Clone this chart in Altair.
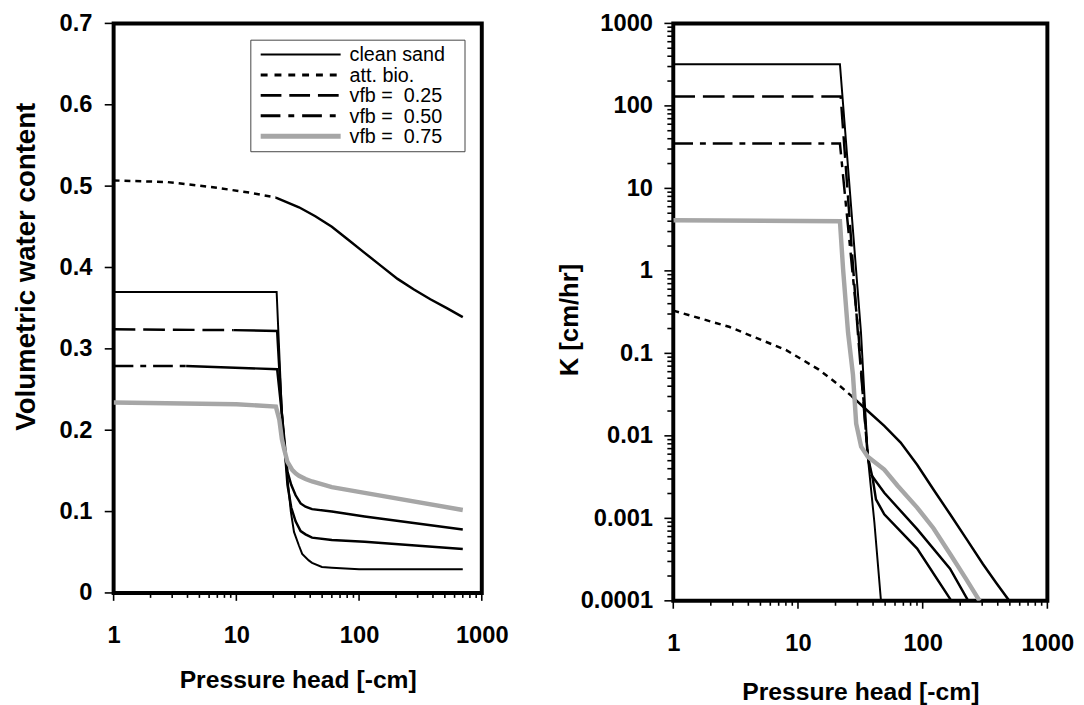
import altair as alt
import pandas as pd

# ---------------- data ----------------
# Left panel: volumetric water content vs pressure head [-cm]
h_clean_L = [1, 21.3, 23.5, 25.3, 27.8, 29.5, 32.4, 34.4, 38.9, 41.4, 49.8, 60, 100, 700]
th_clean_L = [0.370, 0.370, 0.221, 0.161, 0.100, 0.075, 0.058, 0.048, 0.040, 0.037, 0.032, 0.031, 0.029, 0.029]

h_att_L = [1, 2.75, 6.93, 12.8, 21, 32.4, 44, 60, 81.6, 111, 151, 206, 280, 381, 519, 700]
th_att_L = [0.507, 0.505, 0.498, 0.492, 0.486, 0.474, 0.463, 0.450, 0.434, 0.418, 0.402, 0.386,
            0.373, 0.361, 0.350, 0.339]

h_v25_L = [1, 9.5, 21.5, 23.5, 25.3, 26.1, 28, 30.4, 33.4, 36.6, 41.4, 60, 111, 700]
th_v25_L = [0.324, 0.323, 0.322, 0.220, 0.160, 0.133, 0.105, 0.088, 0.076, 0.072, 0.068, 0.065, 0.063, 0.054]

h_v50_L = [1, 3.9, 21.5, 23.5, 25.3, 26.1, 28, 30.4, 33.4, 36.6, 41.4, 60, 111, 700]
th_v50_L = [0.279, 0.279, 0.275, 0.220, 0.170, 0.149, 0.133, 0.120, 0.110, 0.106, 0.103, 0.100, 0.094, 0.078]

h_v75_L = [1, 10, 21, 22.4, 23.5, 24.5, 26.1, 28.6, 30.4, 32.4, 36.6, 41.4, 60, 111, 700]
th_v75_L = [0.234, 0.232, 0.229, 0.213, 0.189, 0.177, 0.161, 0.151, 0.147, 0.144, 0.140, 0.137,
            0.130, 0.123, 0.102]

# Right panel: hydraulic conductivity K [cm/hr] vs pressure head [-cm]
h_clean_R = [1, 21.7, 32, 36.3, 41, 46.3]
K_clean_R = [320, 320, 0.18, 0.0056, 0.00089, 0.0001]

h_att_R = [1, 2.8, 8, 14.6, 21, 26.8, 36.3, 49.2, 66.6, 90.3, 122, 166, 225, 304, 388, 495]
K_att_R = [0.33, 0.21, 0.11, 0.064, 0.042, 0.0305, 0.020, 0.0132, 0.0083, 0.00447, 0.00224,
           0.00112, 0.00056, 0.00028, 0.000166, 0.0001]

h_v25_R = [1, 22, 30.2, 36.3, 39.8, 42.2, 49.2, 90.3, 170]
K_v25_R = [130, 130, 0.18, 0.0056, 0.003, 0.0017, 0.00112, 0.00043, 0.0001]

h_v50_R = [1, 21.7, 30.5, 36.3, 38.5, 49.2, 90.3, 165.7, 232]
K_v50_R = [35, 35, 0.18, 0.0056, 0.0034, 0.00204, 0.00074, 0.000245, 0.0001]

h_v75_R = [1, 21.7, 23, 25.2, 27.6, 29.3, 32.1, 36.3, 49.2, 62.7, 90.3, 122, 166, 220, 286]
K_v75_R = [4.1, 4.0, 1.05, 0.18, 0.055, 0.014, 0.0074, 0.0056, 0.0039, 0.0025, 0.00135,
           0.00076, 0.00037, 0.00019, 0.0001]

series_names = ["clean sand", "att. bio.", "vfb = \u00a00.25", "vfb = \u00a00.50", "vfb = \u00a00.75"]

# tick positions
x_major = [1, 10, 100, 1000]
x_minor = [m * d for d in [1, 10, 100] for m in range(2, 10)]
yL_ticks = [0, 0.1, 0.2, 0.3, 0.4, 0.5, 0.6, 0.7]
yR_major = [0.0001, 0.001, 0.01, 0.1, 1, 10, 100, 1000]
yR_minor = [m * d for d in [0.0001, 0.001, 0.01, 0.1, 1, 10, 100] for m in range(2, 10)]

# ---------------- styles ----------------
STYLES = {
    "solid":   dict(color="black", strokeWidth=2.0),
    "tail":    dict(color="black", strokeWidth=2.5),
    "dot":     dict(color="black", strokeWidth=2.5, strokeDash=[6, 5]),
    "dash":    dict(color="black", strokeWidth=2.5, strokeDash=[22, 8]),
    "dashdot": dict(color="black", strokeWidth=2.5, strokeDash=[20, 7, 6, 7]),
    "gray":    dict(color="#a6a6a6", strokeWidth=4.5),
}
LEGEND_STYLES = [
    dict(color="black", strokeWidth=2.0),
    dict(color="black", strokeWidth=3.0, strokeDash=[7, 7]),
    dict(color="black", strokeWidth=3.0, strokeDash=[21, 8]),
    dict(color="black", strokeWidth=3.0, strokeDash=[20, 8, 6, 8]),
    dict(color="#a6a6a6", strokeWidth=5.0),
]


def segments(name, hs, vs, split, style_a, style_b):
    rows = []
    if split is None:
        for h, v in zip(hs, vs):
            rows.append(dict(series=name, seg=name + "|a", style=style_a, h=h, v=v))
        return rows
    for h, v in zip(hs[: split + 1], vs[: split + 1]):
        rows.append(dict(series=name, seg=name + "|a", style=style_a, h=h, v=v))
    for h, v in zip(hs[split:], vs[split:]):
        rows.append(dict(series=name, seg=name + "|b", style=style_b, h=h, v=v))
    return rows


rowsL = []
rowsL += segments(series_names[0], h_clean_L, th_clean_L, None, "solid", None)
rowsL += segments(series_names[1], h_att_L, th_att_L, 4, "dot", "tail")
rowsL += segments(series_names[2], h_v25_L, th_v25_L, 1, "dash", "tail")
rowsL += segments(series_names[3], h_v50_L, th_v50_L, 1, "dashdot", "tail")
rowsL += segments(series_names[4], h_v75_L, th_v75_L, None, "gray", None)
dfL = pd.DataFrame(rowsL)

rowsR = []
rowsR += segments(series_names[0], h_clean_R, K_clean_R, None, "solid", None)
rowsR += segments(series_names[1], h_att_R, K_att_R, 5, "dot", "tail")
rowsR += segments(series_names[2], h_v25_R, K_v25_R, 4, "dash", "tail")
rowsR += segments(series_names[3], h_v50_R, K_v50_R, 4, "dashdot", "tail")
rowsR += segments(series_names[4], h_v75_R, K_v75_R, None, "gray", None)
dfR = pd.DataFrame(rowsR)

FONT = "Liberation Sans"
WL, HL = 373, 577
WR, HR = 379, 585


def x_axis(title_y):
    t = "indexof([1,10,100,1000], datum.value) >= 0"
    return alt.Axis(
        values=x_major,
        format="~g",
        ticks=True,
        tickSize=7,
        tickOpacity=0,
        labelPadding=24,
        labelFlush=False,
        labelOverlap=False,
        labelFont=FONT, labelFontSize=24, labelFontWeight="bold",
        title="Pressure head [-cm]",
        titleFont=FONT, titleFontSize=25, titleFontWeight="bold",
        titleY=title_y, titleBaseline="alphabetic",
    )


xscale = alt.Scale(type="log", domain=[1, 1000], nice=False)
xL = alt.X("h:Q", scale=xscale, axis=x_axis(96))
xR = alt.X("h:Q", scale=xscale, axis=x_axis(100))

yL = alt.Y(
    "v:Q",
    scale=alt.Scale(domain=[0, 0.7], nice=False, zero=False),
    axis=alt.Axis(
        values=yL_ticks, format="~g", ticks=False, labelPadding=22,
        labelFont=FONT, labelFontSize=24, labelFontWeight="bold",
        title="Volumetric water content",
        titleFont=FONT, titleFontSize=28, titleFontWeight="bold",
        titleX=-80, titleY=246, titleAngle=-90, titleBaseline="alphabetic", titleAlign="center",
    ),
)

yR = alt.Y(
    "v:Q",
    scale=alt.Scale(type="log", domain=[0.0001, 1000], nice=False),
    axis=alt.Axis(
        values=yR_major, format="~g", ticks=False,
        labelPadding=21, labelOverlap=False, labelFlush=False,
        labelFont=FONT, labelFontSize=24, labelFontWeight="bold",
        title="K [cm/hr]",
        titleFont=FONT, titleFontSize=26, titleFontWeight="bold",
        titleX=-97, titleY=300, titleAngle=-90, titleBaseline="alphabetic", titleAlign="center",
    ),
)

ORDER = ["solid", "dot", "dash", "dashdot", "tail", "gray"]
TICK = dict(color="black", strokeWidth=1.6)


def panel_layers(df, x, y):
    layers = []
    for s in ORDER:
        sub = df[df["style"] == s]
        if sub.empty:
            continue
        layers.append(
            alt.Chart(sub)
            .mark_line(clip=True, strokeJoin="miter", **STYLES[s])
            .encode(x=x, y=y, detail="seg:N")
        )
    return layers


def x_tick_layers(x, hgt):
    return [
        alt.Chart(pd.DataFrame({"h": x_major})).mark_rule(**TICK).encode(
            x=x, y=alt.value(hgt), y2=alt.value(hgt + 8)),
        alt.Chart(pd.DataFrame({"h": x_minor})).mark_rule(**TICK).encode(
            x=x, y=alt.value(hgt), y2=alt.value(hgt + 5)),
    ]


# ticks drawn as rules through the scales
tick_L = x_tick_layers(xL, HL) + [
    alt.Chart(pd.DataFrame({"v": yL_ticks})).mark_rule(**TICK).encode(
        y=yL, x=alt.value(-9), x2=alt.value(0)),
]
tick_R = x_tick_layers(xR, HR) + [
    alt.Chart(pd.DataFrame({"v": yR_major})).mark_rule(**TICK).encode(
        y=yR, x=alt.value(-9), x2=alt.value(0)),
    alt.Chart(pd.DataFrame({"v": yR_minor})).mark_rule(**TICK).encode(
        y=yR, x=alt.value(-6), x2=alt.value(0)),
]

# manual legend for the left panel
one = pd.DataFrame({"k": [0]})
leg_layers = [
    alt.Chart(one).mark_rect(fill="white", stroke="#444444", strokeWidth=1).encode(
        x=alt.value(139), x2=alt.value(356), y=alt.value(17), y2=alt.value(130)
    )
]
for i, name in enumerate(series_names):
    yy = 31.5 + 20.7 * i
    leg_layers.append(
        alt.Chart(one).mark_rule(**LEGEND_STYLES[i]).encode(
            x=alt.value(149), x2=alt.value(230), y=alt.value(yy)
        )
    )
    leg_layers.append(
        alt.Chart(pd.DataFrame({"label": [name]})).mark_text(
            align="left", baseline="middle", font=FONT, fontSize=20, color="black"
        ).encode(x=alt.value(239), y=alt.value(yy + 1), text="label:N")
    )

left = alt.layer(*panel_layers(dfL, xL, yL), *tick_L, *leg_layers).properties(width=WL, height=HL)
right = alt.layer(*panel_layers(dfR, xR, yR), *tick_R).properties(width=WR, height=HR)

chart = (
    alt.hconcat(left, right, spacing=194, bounds="flush")
    .properties(padding={"left": 2, "top": -3, "right": 0, "bottom": 0})
    .configure_view(stroke="black", strokeWidth=4)
    .configure_axis(
        domain=False, grid=False,
        labelColor="black", titleColor="black",
    )
)

chart.save("out.html", embed_options={"renderer": "svg", "actions": False})
